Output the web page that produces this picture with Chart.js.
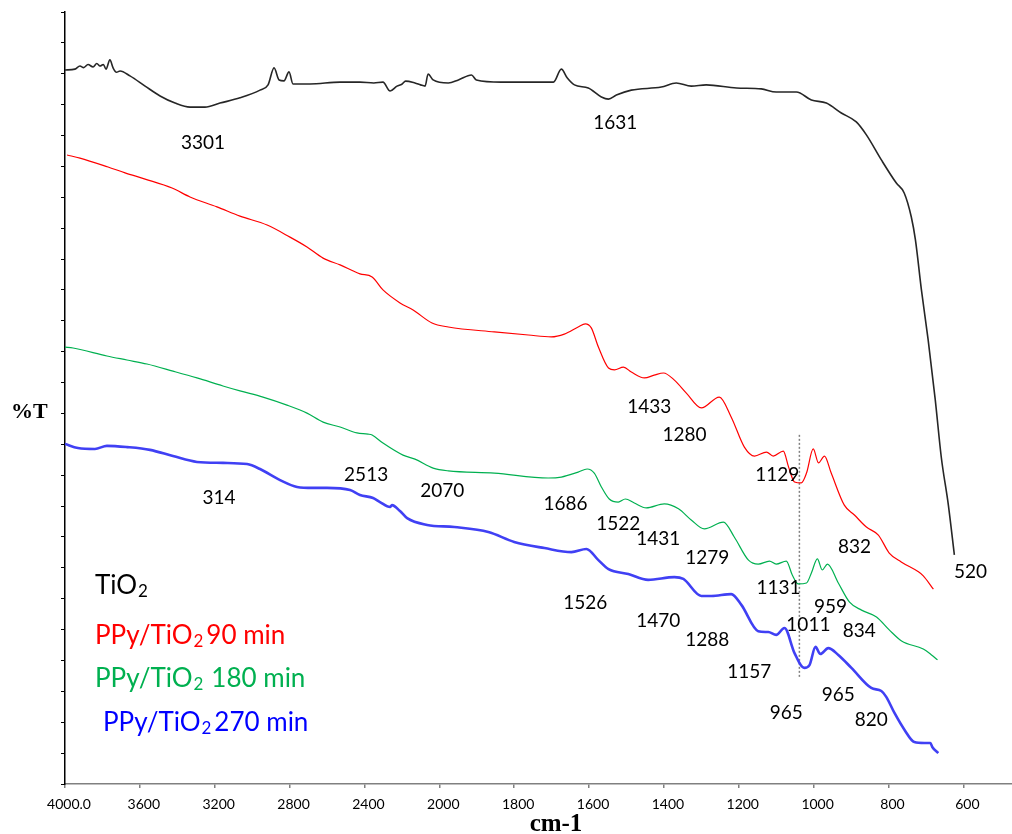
<!DOCTYPE html>
<html>
<head>
<meta charset="utf-8">
<script src="https://cdn.jsdelivr.net/npm/chart.js@4.4.1/dist/chart.umd.min.js"></script>
<style>
    html, body { margin: 0; padding: 0; background: #fff; }
    #chart_ftir { display: block; }
</style>
</head>
<body>
<canvas id="chart_ftir" width="1012" height="834"></canvas>
<script>
// x axis: wavenumber (cm-1), 400 per tick above 2000, 200 per tick below
const XTICK_WAVES = [4000, 3600, 3200, 2800, 2400, 2000, 1800, 1600, 1400, 1200, 1000, 800, 600];
const XTICK_LABELS = ['4000.0', '3600', '3200', '2800', '2400', '2000', '1800', '1600', '1400', '1200', '1000', '800', '600'];
const X_END_WAVE = 470;

// y axis: %T in tick units (26 unlabelled ticks)
const YTICKS = [0, 1, 2, 3, 4, 5, 6, 7, 8, 9, 10, 11, 12, 13, 14, 15, 16, 17, 18, 19, 20, 21, 22, 23, 24, 25];

// TiO2
const TIO2_WAVE = [4000, 3947, 3920, 3900, 3877, 3850, 3830, 3813, 3795, 3781, 3760, 3743, 3725, 3706, 3653, 3572, 3492, 3412, 3332, 3252, 3172, 3065,
    2958, 2915, 2883, 2856, 2830, 2803, 2782, 2691, 2530, 2424, 2350, 2301, 2263, 2226, 2200, 2180, 2130, 2100, 2076, 2060, 2033,
    1976, 1949, 1914, 1901, 1834, 1727, 1695, 1674, 1658, 1639, 1602, 1567, 1548, 1527, 1487, 1407, 1367,
    1327, 1287, 1206, 1140, 1100, 1046, 1006, 966, 926, 886, 859, 819, 779, 758, 739, 728, 712, 694, 675,
    659, 640, 624];
const TIO2_T = [23.12, 23.15, 23.25, 23.20, 23.30, 23.22, 23.33, 23.25, 23.30, 23.15, 23.45, 23.19, 23.05, 23.09, 22.93, 22.60, 22.28, 22.05, 21.92, 21.92, 22.05, 22.22,
    22.47, 22.64, 23.19, 22.80, 22.77, 23.06, 22.67, 22.67, 22.73, 22.73, 22.70, 22.73, 22.44, 22.60, 22.66, 22.76, 22.70, 22.64, 22.60, 22.99, 22.80,
    22.70, 22.80, 22.96, 22.80, 22.73, 22.73, 22.73, 23.15, 22.86, 22.64, 22.54, 22.25, 22.18, 22.31, 22.47, 22.57, 22.70,
    22.60, 22.64, 22.54, 22.51, 22.41, 22.41, 22.15, 22.05, 21.73, 21.44, 21.02, 20.21, 19.46, 19.14, 18.36, 17.62, 16.00, 14.38, 12.44,
    10.59, 9.03, 7.42];

// PPy/TiO2 90 min
const PPY90_WAVE = [3989, 3920, 3770, 3679, 3572, 3428, 3332, 3188, 3065, 2920, 2798, 2707, 2621, 2530, 2424, 2359,
    2301, 2210, 2140, 2039, 1976, 1853, 1762, 1701, 1666, 1629, 1610, 1594, 1575, 1548, 1532, 1508, 1487,
    1452, 1426, 1401, 1372, 1340, 1300, 1252, 1220, 1185, 1158, 1126, 1108, 1081, 1067, 1051, 1033, 1019,
    1001, 987, 971, 953, 918, 891, 859, 827, 798, 766, 720, 707, 680];
const PPY90_T = [20.37, 20.27, 19.98, 19.79, 19.59, 19.30, 19.01, 18.69, 18.39, 18.10, 17.71, 17.39, 17.03, 16.81, 16.52, 16.42,
    16.00, 15.58, 15.35, 14.93, 14.80, 14.64, 14.54, 14.48, 14.57, 14.80, 14.90, 14.77, 14.15, 13.47, 13.41, 13.50, 13.34,
    13.15, 13.24, 13.31, 13.08, 12.66, 12.18, 12.53, 11.88, 10.91, 10.62, 10.75, 10.62, 10.78, 10.27, 9.78, 9.75, 10.07,
    10.85, 10.40, 10.62, 10.07, 9.03, 8.71, 8.32, 8.06, 7.48, 7.19, 6.87, 6.74, 6.31];

// PPy/TiO2 180 min
const PPY180_WAVE = [4000, 3957, 3776, 3669, 3562, 3423, 3295, 3156, 3065, 2942, 2814, 2707, 2621, 2530, 2440, 2381,
    2359, 2301, 2194, 2130, 2033, 1976, 1853, 1709, 1674, 1629, 1605, 1586, 1567, 1546, 1522, 1503, 1479,
    1447, 1399, 1361, 1327, 1292, 1241, 1212, 1174, 1148, 1118, 1100, 1073, 1057, 1041, 1019, 1006, 990,
    977, 963, 934, 904, 872, 832, 798, 765, 707, 685, 669];
const PPY180_T = [14.15, 14.12, 13.86, 13.73, 13.60, 13.37, 13.15, 12.89, 12.73, 12.53, 12.27, 12.01, 11.72, 11.56, 11.37, 11.33,
    11.30, 11.04, 10.65, 10.52, 10.23, 10.14, 10.07, 9.91, 9.94, 10.10, 10.20, 10.07, 9.62, 9.23, 9.13, 9.23, 9.10,
    8.94, 9.07, 8.91, 8.55, 8.26, 8.48, 8.00, 7.25, 7.12, 7.22, 7.12, 7.22, 6.77, 6.48, 6.51, 6.83, 7.29,
    6.93, 7.12, 6.51, 5.89, 5.63, 5.41, 4.99, 4.63, 4.37, 4.18, 4.02];

// PPy/TiO2 270 min
const PPY270_WAVE = [4000, 3931, 3840, 3776, 3669, 3546, 3423, 3295, 3156, 3027, 2958, 2851, 2760, 2675, 2600, 2477,
    2424, 2354, 2317, 2263, 2253, 2210, 2172, 2065, 1960, 1869, 1800, 1719, 1647, 1607, 1575, 1548, 1495,
    1442, 1372, 1348, 1300, 1273, 1220, 1193, 1148, 1121, 1100, 1078, 1051, 1025, 1011, 995, 982, 961,
    934, 899, 846, 819, 806, 784, 757, 731, 704, 688, 683, 667];
const PPY270_T = [11.01, 10.88, 10.85, 10.95, 10.91, 10.82, 10.62, 10.43, 10.40, 10.36, 10.20, 9.84, 9.62, 9.59, 9.59, 9.52,
    9.36, 9.26, 9.13, 8.97, 9.03, 8.84, 8.61, 8.39, 8.32, 8.16, 7.84, 7.64, 7.51, 7.61, 7.25, 6.96, 6.80,
    6.61, 6.70, 6.64, 6.09, 6.09, 6.15, 5.80, 4.95, 4.92, 4.83, 5.05, 4.24, 3.76, 3.85, 4.44, 4.21, 4.40,
    4.18, 3.76, 3.11, 3.01, 2.82, 2.30, 1.75, 1.36, 1.33, 1.33, 1.20, 1.00];

// dotted guide line near 1038 cm-1
const GUIDE_WAVE = [1038, 1038];
const GUIDE_T = [3.47, 11.37];

// peak labels
const PEAK_TEXT = ['3301', '1631', '1433', '1280', '1129', '832', '520',
    '2513', '2070', '1686', '1522', '1431', '1279', '1131', '959', '1011', '834',
    '314', '1526', '1470', '1288', '1157', '965', '965', '820'];
const PEAK_WAVE = [3263, 1530, 1439, 1345, 1097, 891, 581,
    2391, 1992, 1663, 1522, 1415, 1284, 1094, 955, 1014, 878,
    3177, 1610, 1415, 1284, 1172, 1073, 934, 846];
const PEAK_T = [20.79, 21.44, 12.24, 11.33, 10.04, 7.71, 6.90,
    10.04, 9.52, 9.10, 8.45, 7.97, 7.35, 6.38, 5.76, 5.18, 4.99,
    9.29, 5.89, 5.31, 4.70, 3.66, 2.33, 2.91, 2.10];

// legend entries: text before subscript, subscript, text after
const LEGEND_LABELS = [['TiO', '2', ''], ['PPy/TiO', '2', '90 min'], ['PPy/TiO', '2', '180 min'], ['PPy/TiO', '2', '270 min']];
const COLORS = ['#262626', '#ff0000', '#00b050', '#4040f4'];
const LEGEND_COLORS = ['#000000', '#ff0000', '#00b050', '#0000ff'];

function waveToAxis(w) {
    return w >= 2000 ? (4000 - w) / 400 : 5 + (2000 - w) / 200;
}

function toPoints(waves, vals) {
    return waves.map(function (w, i) { return { x: waveToAxis(w), y: vals[i] }; });
}

const FONT = 'Lato, "Open Sans", sans-serif';

var ftirText = {
    id: 'ftirText',
    afterDatasetsDraw(chart) {
        const ctx = chart.ctx;
        const xs = chart.scales.x;
        const ys = chart.scales.y;
        ctx.save();

        // peak numbers
        ctx.font = '19px ' + FONT;
        ctx.fillStyle = '#000';
        ctx.textAlign = 'center';
        ctx.textBaseline = 'alphabetic';
        PEAK_TEXT.forEach(function (t, i) {
            ctx.fillText(t, xs.getPixelForValue(waveToAxis(PEAK_WAVE[i])), ys.getPixelForValue(PEAK_T[i]) + 7);
        });

        // legend block
        ctx.textAlign = 'left';
        var baselines = [594, 644, 687, 731];
        var lefts = [95, 95, 95, 103];
        var gaps = [0, 3, 8, 3];
        LEGEND_LABELS.forEach(function (parts, i) {
            var x = lefts[i];
            ctx.fillStyle = LEGEND_COLORS[i];
            ctx.font = '26px ' + FONT;
            ctx.fillText(parts[0], x, baselines[i]);
            x += ctx.measureText(parts[0]).width + 1;
            ctx.font = '17px ' + FONT;
            ctx.fillText(parts[1], x, baselines[i] + 3);
            x += ctx.measureText(parts[1]).width + gaps[i];
            ctx.font = '26px ' + FONT;
            ctx.fillText(parts[2], x, baselines[i]);
        });

        // axis titles
        ctx.fillStyle = '#000';
        ctx.font = 'bold 22px "Liberation Serif", "Times New Roman", serif';
        ctx.fillText('%T', 11, 418);
        ctx.font = 'bold 25px "Liberation Serif", "Times New Roman", serif';
        ctx.textAlign = 'center';
        ctx.fillText('cm-1', 556, 831);
        ctx.restore();
    }
};

var ftirChart = new Chart(document.getElementById('chart_ftir'), {
    type: 'line',
    data: {
        datasets: [
            { label: 'TiO2', data: toPoints(TIO2_WAVE, TIO2_T), borderColor: COLORS[0], borderWidth: 1.6, cubicInterpolationMode: 'monotone' },
            { label: 'PPy/TiO2 90 min', data: toPoints(PPY90_WAVE, PPY90_T), borderColor: COLORS[1], borderWidth: 1.2, cubicInterpolationMode: 'monotone' },
            { label: 'PPy/TiO2 180 min', data: toPoints(PPY180_WAVE, PPY180_T), borderColor: COLORS[2], borderWidth: 1.2, cubicInterpolationMode: 'monotone' },
            { label: 'PPy/TiO2 270 min', data: toPoints(PPY270_WAVE, PPY270_T), borderColor: COLORS[3], borderWidth: 2.6, cubicInterpolationMode: 'monotone' },
            { label: 'guide', data: toPoints(GUIDE_WAVE, GUIDE_T), borderColor: '#808080', borderWidth: 1.5, borderDash: [2, 2] }
        ]
    },
    options: {
        responsive: false,
        animation: false,
        events: [],
        layout: { padding: { top: 12, right: 0, left: 0, bottom: 0 } },
        elements: {
            point: { radius: 0 },
            line: { tension: 0, fill: false }
        },
        plugins: {
            legend: { display: false },
            tooltip: { enabled: false }
        },
        scales: {
            x: {
                type: 'linear',
                min: 0,
                max: waveToAxis(X_END_WAVE),
                afterBuildTicks: function (s) {
                    s.ticks = XTICK_WAVES.map(function (w) { return { value: waveToAxis(w) }; });
                },
                afterFit: function (s) { s.height = 50; },
                border: { color: '#808080', width: 1.5 },
                grid: { drawOnChartArea: false, drawTicks: true, tickLength: 4, color: '#808080', lineWidth: 1.5 },
                ticks: {
                    autoSkip: false,
                    maxRotation: 0,
                    padding: 8,
                    labelOffset: 4,
                    color: '#000',
                    font: { family: FONT, size: 14 },
                    callback: function (v) {
                        var i = XTICK_WAVES.findIndex(function (w) { return Math.abs(waveToAxis(w) - v) < 1e-6; });
                        return i >= 0 ? XTICK_LABELS[i] : '';
                    }
                }
            },
            y: {
                type: 'linear',
                min: 0,
                max: 25,
                afterBuildTicks: function (s) {
                    s.ticks = YTICKS.map(function (v) { return { value: v }; });
                },
                afterFit: function (s) { s.width = 65; },
                border: { color: '#000', width: 1.5 },
                grid: { drawOnChartArea: false, drawTicks: true, tickLength: 4, color: '#000', lineWidth: 1 },
                ticks: { display: false }
            }
        }
    },
    plugins: [ftirText]
});
</script>
</body>
</html>
